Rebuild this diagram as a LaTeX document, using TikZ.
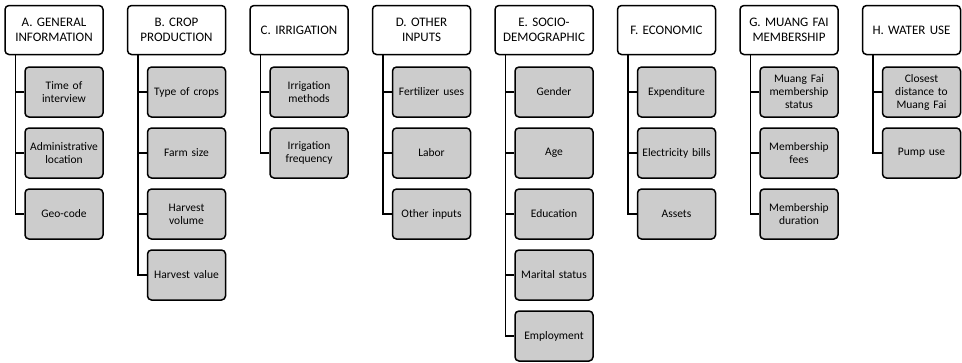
\documentclass[tikz,border=0pt]{standalone}
\usepackage{fontspec}
\setmainfont{Carlito}
\usepackage{xcolor}
\usepackage{tikz}

\tikzset{
  head/.style={draw, line width=1.5pt, rounded corners=4pt, fill=white, align=center,
    minimum width=98pt, minimum height=49pt, text width=96pt, inner sep=0pt,
    font=\fontsize{13}{14.5}\selectfont},
  item/.style={draw, line width=1.5pt, rounded corners=4pt, fill=gray!40, align=center,
    minimum width=78pt, minimum height=50pt, text width=78pt, inner sep=0pt,
    font=\fontsize{11.5}{13}\selectfont},
  link/.style={line width=1.5pt}
}

\begin{document}
\begin{tikzpicture}[x=1pt,y=-1pt]

\useasboundingbox (0,0) rectangle (962,362);

% Intestazioni
\node[head] (hA) at (54,30) {A. GENERAL\\INFORMATION};
\node[head] (hB) at (176.5,30) {B. CROP\\PRODUCTION};
\node[head] (hC) at (299,30) {C. IRRIGATION};
\node[head] (hD) at (421.5,30) {D. OTHER\\INPUTS};
\node[head] (hE) at (544,30) {E. SOCIO-\\DEMOGRAPHIC};
\node[head] (hF) at (666.5,30) {F. ECONOMIC};
\node[head] (hG) at (789,30) {G. MUANG FAI\\MEMBERSHIP};
\node[head] (hH) at (911.5,30) {H. WATER USE};

% Voci A
\node[item] (a1) at (64,92) {Time of\\interview};
\node[item] (a2) at (64,153) {Administrative\\location};
\node[item] (a3) at (64,214) {Geo-code};

% Voci B
\node[item] (b1) at (186.5,92) {Type of crops};
\node[item] (b2) at (186.5,153) {Farm size};
\node[item] (b3) at (186.5,214) {Harvest\\volume};
\node[item] (b4) at (186.5,275) {Harvest value};

% Voci C
\node[item] (c1) at (309,92) {Irrigation\\methods};
\node[item] (c2) at (309,153) {Irrigation\\frequency};

% Voci D
\node[item] (d1) at (431.5,92) {Fertilizer uses};
\node[item] (d2) at (431.5,153) {Labor};
\node[item] (d3) at (431.5,214) {Other inputs};

% Voci E
\node[item] (e1) at (554,92) {Gender};
\node[item] (e2) at (554,153) {Age};
\node[item] (e3) at (554,214) {Education};
\node[item] (e4) at (554,275) {Marital status};
\node[item] (e5) at (554,336) {Employment};

% Voci F
\node[item] (f1) at (676.5,92) {Expenditure};
\node[item] (f2) at (676.5,153) {Electricity bills};
\node[item] (f3) at (676.5,214) {Assets};

% Voci G
\node[item] (g1) at (799,92) {Muang Fai\\membership\\status};
\node[item] (g2) at (799,153) {Membership\\fees};
\node[item] (g3) at (799,214) {Membership\\duration};

% Voci H
\node[item] (h1) at (921.5,92) {Closest\\distance to\\Muang Fai};
\node[item] (h2) at (921.5,153) {Pump use};

% Tronchi
\coordinate (tA) at ([xshift=11pt]hA.south west);
\coordinate (tB) at ([xshift=11pt]hB.south west);
\coordinate (tC) at ([xshift=11pt]hC.south west);
\coordinate (tD) at ([xshift=11pt]hD.south west);
\coordinate (tE) at ([xshift=11pt]hE.south west);
\coordinate (tF) at ([xshift=11pt]hF.south west);
\coordinate (tG) at ([xshift=11pt]hG.south west);
\coordinate (tH) at ([xshift=11pt]hH.south west);

% Collegamenti
\draw[link] (tA) |- (a1.west); \draw[link] (tA) |- (a2.west); \draw[link] (tA) |- (a3.west);
\draw[link] (tB) |- (b1.west); \draw[link] (tB) |- (b2.west); \draw[link] (tB) |- (b3.west);
\draw[link] (tB) |- (b4.west);
\draw[link] (tC) |- (c1.west); \draw[link] (tC) |- (c2.west);
\draw[link] (tD) |- (d1.west); \draw[link] (tD) |- (d2.west); \draw[link] (tD) |- (d3.west);
\draw[link] (tE) |- (e1.west); \draw[link] (tE) |- (e2.west); \draw[link] (tE) |- (e3.west);
\draw[link] (tE) |- (e4.west); \draw[link] (tE) |- (e5.west);
\draw[link] (tF) |- (f1.west); \draw[link] (tF) |- (f2.west); \draw[link] (tF) |- (f3.west);
\draw[link] (tG) |- (g1.west); \draw[link] (tG) |- (g2.west); \draw[link] (tG) |- (g3.west);
\draw[link] (tH) |- (h1.west); \draw[link] (tH) |- (h2.west);

\end{tikzpicture}
\end{document}
